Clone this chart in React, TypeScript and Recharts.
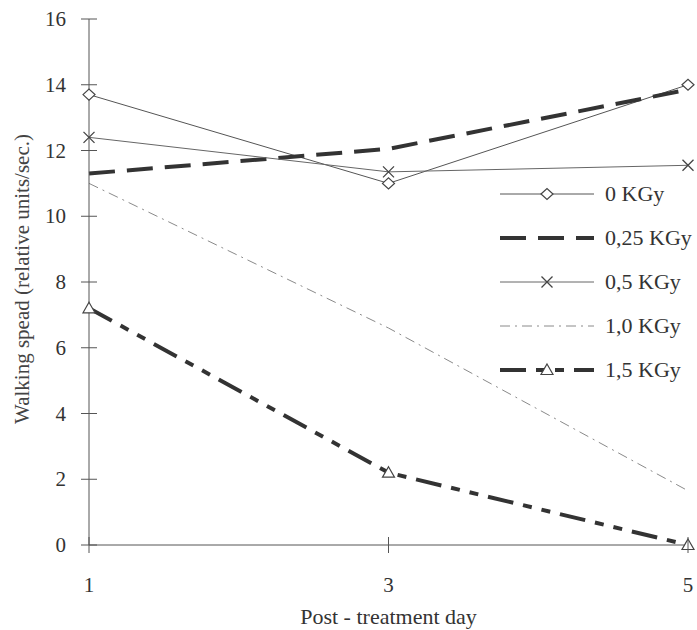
import React from 'react';
import { LineChart, Line, XAxis, YAxis, Label } from 'recharts';

// Post-treatment days and walking speed per irradiation dose
const days = [1, 3, 5];
const dose0 = [13.7, 11.0, 14.0];
const dose025 = [11.3, 12.05, 13.85];
const dose05 = [12.4, 11.35, 11.55];
const dose10 = [11.0, 6.6, 1.65];
const dose15 = [7.2, 2.2, 0];

const xTicks = [1, 3, 5];
const yTicks = [0, 2, 4, 6, 8, 10, 12, 14, 16];
const seriesNames = ['0 KGy', '0,25 KGy', '0,5 KGy', '1,0 KGy', '1,5 KGy'];
const xTitle = 'Post - treatment day';
const yTitle = 'Walking spead (relative units/sec.)';

const data = days.map((d, i) => ({
  day: d,
  s0: dose0[i],
  s025: dose025[i],
  s05: dose05[i],
  s10: dose10[i],
  s15: dose15[i],
}));

type Marker = 'diamond' | 'x' | 'triangle' | null;

const series: { key: string; name: string; stroke: string; width: number; dash?: string; marker: Marker }[] = [
  { key: 's0', name: seriesNames[0], stroke: '#555', width: 1, marker: 'diamond' },
  { key: 's025', name: seriesNames[1], stroke: '#333', width: 4, dash: '26 12', marker: null },
  { key: 's05', name: seriesNames[2], stroke: '#666', width: 1, marker: 'x' },
  { key: 's10', name: seriesNames[3], stroke: '#8a8a8a', width: 1, dash: '10 5 2 5', marker: null },
  { key: 's15', name: seriesNames[4], stroke: '#333', width: 4, dash: '26 10 9 10 9 10', marker: 'triangle' },
];

const FONT = '"Liberation Serif", "Times New Roman", serif';
const TEXT = '#333';

function MarkerShape({ cx, cy, type }: { cx: number; cy: number; type: Marker }) {
  if (type === 'diamond') {
    return (
      <path
        d={`M${cx - 6},${cy} L${cx},${cy - 5.5} L${cx + 6},${cy} L${cx},${cy + 5.5} Z`}
        fill="#fff"
        stroke="#444"
        strokeWidth={1.2}
      />
    );
  }
  if (type === 'x') {
    return (
      <path
        d={`M${cx - 5.5},${cy - 5.5} L${cx + 5.5},${cy + 5.5} M${cx - 5.5},${cy + 5.5} L${cx + 5.5},${cy - 5.5}`}
        stroke="#444"
        strokeWidth={1.3}
        fill="none"
      />
    );
  }
  if (type === 'triangle') {
    return (
      <path
        d={`M${cx},${cy - 6} L${cx + 6},${cy + 4.5} L${cx - 6},${cy + 4.5} Z`}
        fill="#fff"
        stroke="#444"
        strokeWidth={1.2}
      />
    );
  }
  return null;
}

const YTick = (props: any) => {
  const { x, y, payload } = props;
  return (
    <g>
      <line x1={x - 8} x2={x + 8} y1={y} y2={y} stroke="#555" strokeWidth={1} />
      <text x={x - 23} y={y} dy={7} textAnchor="end" fontFamily={FONT} fontSize={21} fill={TEXT}>
        {payload.value}
      </text>
    </g>
  );
};

const XTick = (props: any) => {
  const { x, y, payload } = props;
  return (
    <g>
      <line x1={x} x2={x} y1={y - 8} y2={y + 8} stroke="#555" strokeWidth={1} />
      <text x={x} y={y} dy={47} textAnchor="middle" fontFamily={FONT} fontSize={21} fill={TEXT}>
        {payload.value}
      </text>
    </g>
  );
};

const legendRows = [194, 238, 282, 326, 370];

function LegendOverlay() {
  return (
    <svg width={697} height={630} style={{ position: 'absolute', left: 0, top: 0, pointerEvents: 'none' }}>
      {series.map((s, i) => {
        const y = legendRows[i];
        return (
          <g key={s.key}>
            <line
              x1={500}
              x2={594}
              y1={y}
              y2={y}
              stroke={s.stroke}
              strokeWidth={s.width}
              strokeDasharray={s.dash}
            />
            {s.marker && <MarkerShape cx={547} cy={y} type={s.marker} />}
            <text x={605} y={y} dy={7} fontFamily={FONT} fontSize={22} fill={TEXT}>
              {s.name}
            </text>
          </g>
        );
      })}
    </svg>
  );
}

export default function App() {
  return (
    <div style={{ position: 'absolute', left: 0, top: 0, width: 697, height: 630, background: '#fff' }}>
      <LineChart width={697} height={630} data={data} margin={{ top: 19, right: 9, bottom: 0, left: 0 }}>
        <XAxis
          dataKey="day"
          type="number"
          domain={[1, 5]}
          ticks={xTicks}
          height={85}
          tickSize={0}
          tickMargin={0}
          tickLine={false}
          axisLine={{ stroke: '#555', strokeWidth: 1 }}
          tick={<XTick />}
          interval={0}
        >
          <Label
            content={(p: any) => {
              const vb = p.viewBox;
              return (
                <text
                  x={vb.x + vb.width / 2}
                  y={624}
                  textAnchor="middle"
                  fontFamily={FONT}
                  fontSize={22}
                  fill={TEXT}
                >
                  {xTitle}
                </text>
              );
            }}
          />
        </XAxis>
        <YAxis
          type="number"
          domain={[0, 16]}
          ticks={yTicks}
          width={89}
          tickSize={0}
          tickMargin={0}
          tickLine={false}
          axisLine={{ stroke: '#555', strokeWidth: 1 }}
          tick={<YTick />}
          interval={0}
        >
          <Label
            content={(p: any) => {
              const vb = p.viewBox;
              const cx = 22;
              const cy = vb.y + vb.height / 2 - 3;
              return (
                <text
                  x={cx}
                  y={cy}
                  transform={`rotate(-90 ${cx} ${cy})`}
                  textAnchor="middle"
                  dominantBaseline="central"
                  fontFamily={FONT}
                  fontSize={21}
                  fill="#444"
                >
                  {yTitle}
                </text>
              );
            }}
          />
        </YAxis>
        {series.map((s) => (
          <Line
            key={s.key}
            dataKey={s.key}
            name={s.name}
            type="linear"
            stroke={s.stroke}
            strokeWidth={s.width}
            strokeDasharray={s.dash}
            isAnimationActive={false}
            dot={
              s.marker
                ? (p: any) => <MarkerShape key={`${s.key}-${p.index}`} cx={p.cx} cy={p.cy} type={s.marker} />
                : false
            }
            activeDot={false}
          />
        ))}
      </LineChart>
      <LegendOverlay />
    </div>
  );
}
